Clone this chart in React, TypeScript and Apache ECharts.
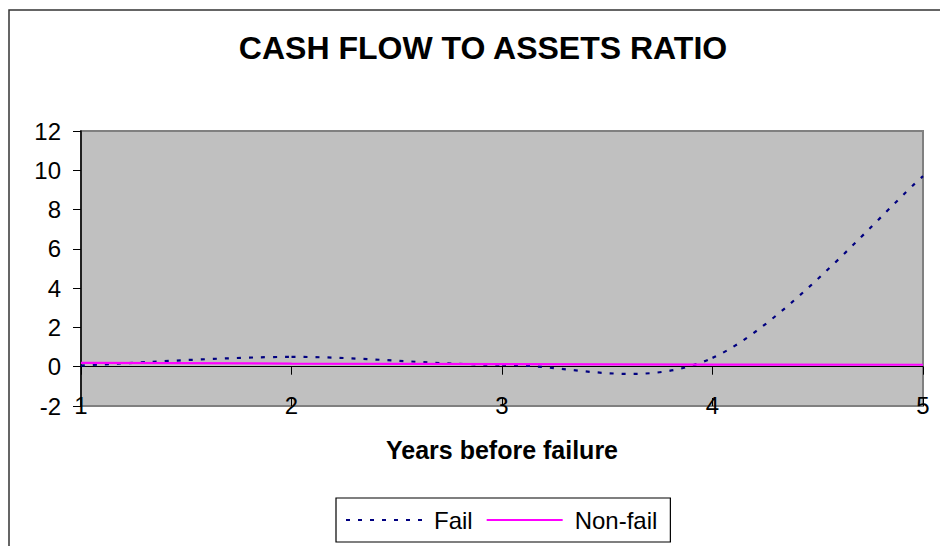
import React, { useEffect, useRef } from "react";
import * as echarts from "echarts";

const years = [1, 2, 3, 4, 5];
const failValues = [0.06, 0.5, 0.1, 0.45, 9.7];
const nonFailValues = [0.2, 0.16, 0.13, 0.11, 0.1];
const yTicks = { min: -2, max: 12, interval: 2 };

const FONT = "'Liberation Sans', Arial, sans-serif";
const FAIL_COLOR = "#000080";
const NONFAIL_COLOR = "#FF00FF";
const FAIL_DASH = [4, 8];

export default function App() {
  const ref = useRef<HTMLDivElement>(null);
  useEffect(() => {
    if (!ref.current) return;
    const chart = echarts.init(ref.current, null, { renderer: "svg" });
    const xBase = { type: "value", min: 1, max: 5, interval: 1, gridIndex: 0 } as any;
    const n = years.length;

    const renderFailSegment = (params: any, api: any) => {
      const i = params.dataIndex;
      if (i >= n - 1) return { type: "group", children: [] };
      const pt = (j: number) => {
        const k = Math.max(0, Math.min(n - 1, j));
        return api.coord([years[k], failValues[k]]);
      };
      const p0 = pt(i - 1);
      const p1 = pt(i);
      const p2 = pt(i + 1);
      const p3 = pt(i + 2);
      return {
        type: "bezierCurve",
        shape: {
          x1: p1[0],
          y1: p1[1],
          x2: p2[0],
          y2: p2[1],
          cpx1: p1[0] + (p2[0] - p0[0]) / 6,
          cpy1: p1[1] + (p2[1] - p0[1]) / 6,
          cpx2: p2[0] - (p3[0] - p1[0]) / 6,
          cpy2: p2[1] - (p3[1] - p1[1]) / 6,
        },
        style: {
          fill: "none",
          stroke: FAIL_COLOR,
          lineWidth: 2.2,
          lineDash: FAIL_DASH,
        },
      };
    };

    chart.setOption({
      animation: false,
      backgroundColor: "#ffffff",
      textStyle: { fontFamily: FONT },
      graphic: [
        {
          type: "rect",
          z: -10,
          shape: { x: 9, y: 10, width: 1000, height: 1000 },
          style: { fill: "none", stroke: "#333333", lineWidth: 1.5 },
          silent: true,
        },
        {
          type: "text",
          x: 483,
          y: 48,
          style: {
            text: "CASH FLOW TO ASSETS RATIO",
            fontFamily: FONT,
            fontSize: 32,
            fontWeight: "bold",
            fill: "#000",
            textAlign: "center",
            textVerticalAlign: "middle",
          },
        },
        {
          type: "text",
          x: 502,
          y: 450,
          style: {
            text: "Years before failure",
            fontFamily: FONT,
            fontSize: 25,
            fontWeight: "bold",
            fill: "#000",
            textAlign: "center",
            textVerticalAlign: "middle",
          },
        },
      ],
      grid: {
        left: 81,
        top: 131,
        width: 842,
        height: 275,
        show: true,
        backgroundColor: "#C0C0C0",
        borderColor: "#808080",
        borderWidth: 2,
      },
      legend: {
        left: 336,
        top: 498,
        orient: "horizontal",
        padding: [10, 13, 10, 9],
        borderColor: "#000",
        borderWidth: 1.2,
        itemWidth: 76,
        itemHeight: 14,
        itemGap: 13,
        itemStyle: { opacity: 0 },
        textStyle: { fontFamily: FONT, fontSize: 24, color: "#000", padding: [0, 0, 0, 7] },
        data: ["Fail", "Non-fail"],
      },
      xAxis: [
        {
          ...xBase,
          position: "bottom",
          axisLine: { show: true, onZero: true, lineStyle: { color: "#000", width: 1 } },
          axisTick: { show: true, inside: false, length: 8, lineStyle: { color: "#000" } },
          axisLabel: { show: false },
          splitLine: { show: false },
        },
        {
          ...xBase,
          position: "bottom",
          axisLine: { show: true, onZero: true, lineStyle: { color: "rgba(0,0,0,0)" } },
          axisTick: { show: true, inside: true, length: 8, lineStyle: { color: "#000" } },
          axisLabel: { show: false },
          splitLine: { show: false },
        },
        {
          ...xBase,
          position: "bottom",
          axisLine: { show: false, onZero: false },
          axisTick: { show: false },
          axisLabel: {
            show: true,
            fontFamily: FONT,
            fontSize: 24,
            color: "#000",
            margin: -13,
            showMinLabel: true,
            showMaxLabel: true,
          },
          splitLine: { show: false },
        },
      ],
      yAxis: {
        type: "value",
        min: yTicks.min,
        max: yTicks.max,
        interval: yTicks.interval,
        axisLine: { show: true, onZero: false, lineStyle: { color: "#000", width: 1.5 } },
        axisTick: { show: true, inside: false, length: 8, lineStyle: { color: "#000" } },
        axisLabel: { fontFamily: FONT, fontSize: 24, color: "#000", margin: 20 },
        splitLine: { show: false },
      },
      series: [
        {
          name: "Fail",
          type: "line",
          xAxisIndex: 0,
          data: [],
          symbol: "none",
          color: FAIL_COLOR,
          lineStyle: { color: FAIL_COLOR, width: 2.2, type: FAIL_DASH },
        },
        {
          name: "Fail curve",
          type: "custom",
          coordinateSystem: "cartesian2d",
          xAxisIndex: 0,
          yAxisIndex: 0,
          encode: { x: 0, y: 1 },
          data: years.map((x, i) => [x, failValues[i]]),
          renderItem: renderFailSegment,
          z: 3,
        },
        {
          name: "Non-fail",
          type: "line",
          xAxisIndex: 0,
          data: years.map((x, i) => [x, nonFailValues[i]]),
          smooth: false,
          symbol: "none",
          color: NONFAIL_COLOR,
          lineStyle: { color: NONFAIL_COLOR, width: 2.2 },
          z: 4,
        },
      ],
    });
    return () => chart.dispose();
  }, []);
  return (
    <div
      ref={ref}
      style={{ position: "fixed", left: 0, top: 0, width: 940, height: 546 }}
    />
  );
}
